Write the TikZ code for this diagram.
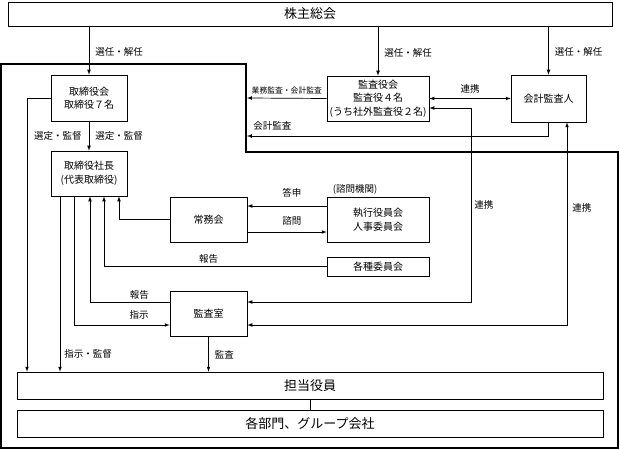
\documentclass[tikz,border=0pt]{standalone}
\usepackage{fontspec}
\newfontfamily\jpfont{Noto Sans CJK JP}
\usetikzlibrary{positioning}

\begin{document}
\begin{tikzpicture}[x=1pt,y=-1pt,>=latex,line width=0.7pt,
		box/.style={draw,align=center,inner sep=1pt,font=\jpfont\fontsize{10}{13.5}\selectfont},
		widebox/.style={draw,minimum width=586pt,minimum height=27pt,inner sep=0pt,font=\jpfont\fontsize{13}{15}\selectfont},
		lbl/.style={inner sep=2pt,font=\jpfont\fontsize{9.5}{11}\selectfont},
		small/.style={inner sep=2pt,font=\jpfont\fontsize{7.8}{9}\selectfont}]
		\useasboundingbox (0,0) rectangle (620,449);

		% the shareholders on top
		\node[widebox,minimum width=604pt,minimum height=24pt] (soukai) at (310,14) {株主総会};

		% the frame round the company
		\draw[line width=1.2pt] (1,64) -- (246,64) -- (246,152) -- (618,152) -- (618,448) -- (1,448) -- cycle;

		% the boxes
		\node[box,minimum width=76pt,minimum height=46pt] (torikai) at (89,98) {取締役会\\取締役７名};
		\node[box,minimum width=76pt,minimum height=45pt] (shacho) at (89,173.5) {取締役社長\\(代表取締役)};
		\node[box,minimum width=102pt,minimum height=45pt] (kansayaku) at (378,98.5) {監査役会\\監査役４名\\(うち社外監査役２名)};
		\node[box,minimum width=75pt,minimum height=47pt] (kaikei) at (548.5,98.5) {会計監査人};
		\node[box,minimum width=77pt,minimum height=45pt] (jomu) at (208.5,219.5) {常務会};
		\node[box,minimum width=102pt,minimum height=45pt] (shikko) at (378,219.5) {執行役員会\\人事委員会};
		\node[box,minimum width=102pt,minimum height=19pt] (kakushu) at (378,266.5) {各種委員会};
		\node[box,minimum width=77pt,minimum height=45pt] (kansashitsu) at (208.5,313.5) {監査室};
		\node[widebox] (tanto) at (310,385.5) {担当役員};
		\node[widebox] (bumon) at (310,423.5) {各部門、グループ会社};
		\node[lbl] (shimonkikan) at (355,189) {(諮問機関)};

		% elected by the shareholders
		\foreach \n in {torikai,kansayaku,kaikei}
			\draw[->] (\n |- soukai.south) -- (\n.north) node[lbl,pos=0.53,right=4pt] (sen-\n) {選任・解任};

		% the board and the president
		\draw[->] (torikai) -- (shacho)
			node[lbl,midway,left=5pt] (sentei1) {選定・監督}
			node[lbl,midway,right=4pt] (sentei2) {選定・監督};
		\draw[->] (torikai.west) -| (tanto.north -| 27,0);

		% lines out of the president
		\draw[->] (shacho.south -| 60,0) -- (tanto.north -| 60,0) node[lbl,pos=0.9,right=2pt] (shiji2) {指示・監督};
		\draw[->] (shacho.south -| 74,0) |- (kansashitsu.west |- 0,325) node[lbl,pos=0.84,above=3pt] (shiji1) {指示};
		\draw[->] (kansashitsu.west |- 0,302) -| (shacho.south -| 90,0) node[lbl,pos=0.19,above=0pt] (houkoku1) {報告};
		\draw[->] (kakushu.west) -| (shacho.south -| 104,0) node[lbl,pos=0.265,above=1pt] (houkoku2) {報告};
		\draw[->] (jomu.west) -| (shacho.south -| 119,0);

		% the advisory bodies
		\draw[->] (shikko.west |- 0,206) -- (jomu.east |- 0,206) node[lbl,pos=0.44,above=6pt] (toushin) {答申};
		\draw[->] (jomu.east |- 0,232) -- (shikko.west |- 0,232) node[lbl,pos=0.56,above=4pt] (shimon) {諮問};

		% the auditors
		\coordinate (gyomuend) at (247,98);
		\coordinate (kaikeiend) at (247,136);
		\draw[->] (kansayaku.west) -- (gyomuend) node[small,midway,above=2pt] (gyomu) {業務監査・会計監査};
		\draw[->] (kaikei.south) |- (kaikeiend) node[lbl,above right=3pt and 4pt] (kaikeikansa) {会計監査};
		\draw[<->] (kansayaku) -- (kaikei) node[lbl,midway,above=3pt] (renkei1) {連携};
		\draw[<->] (kansashitsu.east |- 0,302) -- (471,302)
			-- node[lbl,right=1pt] (renkei2) {連携} (471,108) -- (kansayaku.east |- 0,108);
		\draw[<->] (kansashitsu.east |- 0,325) -| ([xshift=18.5pt]kaikei.south) node[lbl,pos=0.79,right=3pt] (renkei3) {連携};

		% down to the divisions
		\draw[->] (kansashitsu) -- (kansashitsu |- tanto.north) node[lbl,pos=0.53,right=4pt] (kansa) {監査};
		\draw (tanto) -- (bumon);
	\end{tikzpicture}
\end{document}
